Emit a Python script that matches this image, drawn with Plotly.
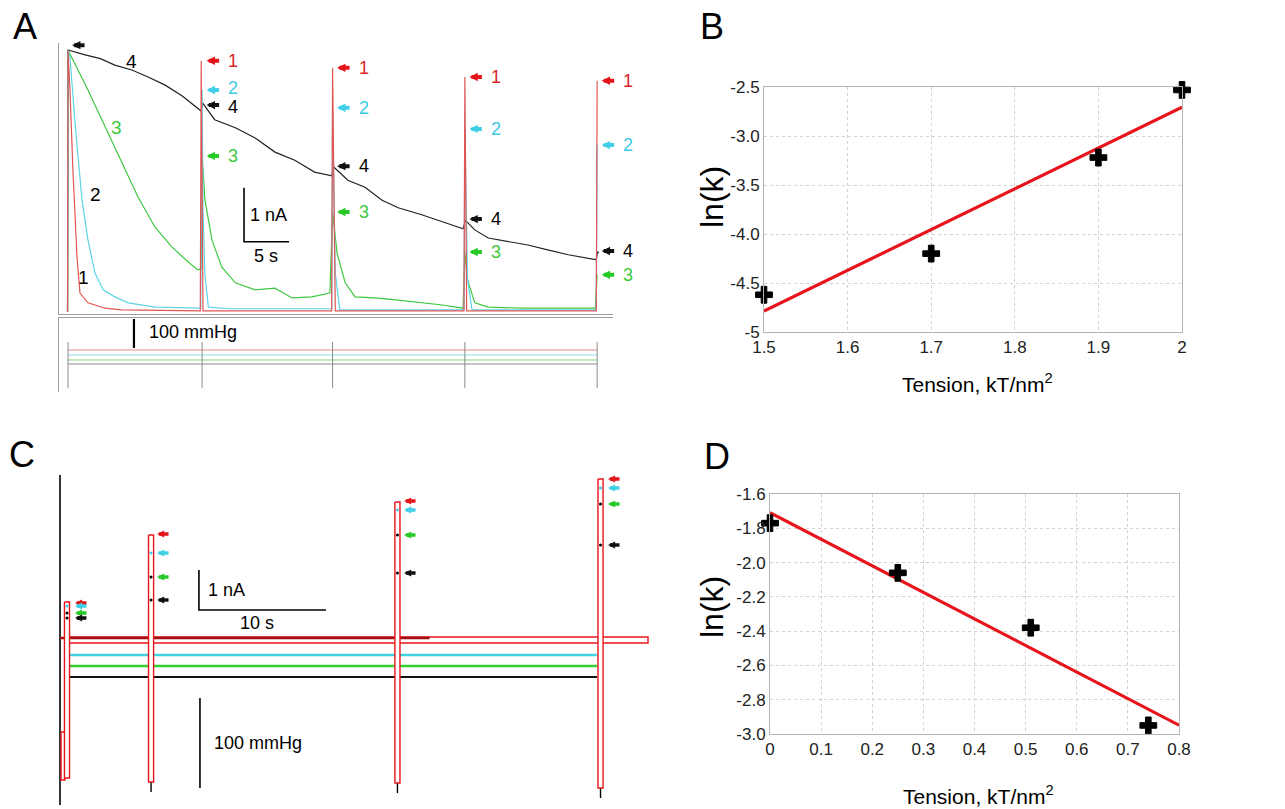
import numpy as np
import plotly.graph_objects as go

W, H = 1285, 809
FONT = "Liberation Sans, Arial, sans-serif"

# ---------------- Panel A : current traces (time s, current nA) ----------------
A1_t = [-0.05, 0, 0.22, 0.56, 1.0, 1.33, 2.22, 4.1, 6.0, 14.7, 14.8, 15.0, 29.3, 29.4, 29.7, 44.0, 44.1, 44.3, 58.7, 58.8]
A1_i = [0, 4.85, 4.11, 2.57, 1.02, 0.35, 0.17, 0.07, 0.04, 0.02, 4.65, 0.02, 0.02, 4.52, 0.02, 0.02, 4.35, 0.02, 0.02, 4.28]

A2_t = [-0.05, 0, 0.22, 0.78, 1.56, 2.22, 3.0, 3.9, 5.2, 6.7, 9.7, 14.75, 14.9, 15.0, 15.2, 15.6, 18.0, 29.3, 29.4, 29.7, 30.2, 44.0, 44.1, 44.4, 44.9, 58.7, 58.8]
A2_i = [0, 4.85, 4.72, 3.5, 2.07, 1.33, 0.72, 0.41, 0.28, 0.17, 0.09, 0.07, 4.11, 1.94, 0.72, 0.09, 0.06, 0.06, 3.78, 0.72, 0.04, 0.04, 3.39, 0.59, 0.04, 0.04, 3.09]

A3_t = [-0.05, 0, 2.22, 4.11, 6.0, 7.78, 9.67, 11.56, 13.33, 14.44, 14.8, 14.9, 15.22, 16.0, 17.1, 18.6, 20.8, 23.0, 24.9, 27.1, 29.1, 29.4, 29.9, 30.8, 31.9, 34.1, 36.7, 39.3, 41.6, 43.9, 44.1, 44.4, 45.2, 46.7, 50.4, 54.1, 58.6, 58.8]
A3_i = [0, 4.85, 4.11, 3.43, 2.76, 2.13, 1.57, 1.20, 0.93, 0.78, 0.80, 2.89, 2.07, 1.33, 0.83, 0.54, 0.41, 0.44, 0.26, 0.28, 0.35, 1.85, 1.09, 0.54, 0.28, 0.26, 0.22, 0.17, 0.13, 0.07, 1.11, 0.59, 0.17, 0.09, 0.07, 0.07, 0.07, 0.69]

A4_t = [-0.05, 0, 1.9, 3.6, 5.2, 7.1, 8.9, 10.8, 12.7, 14.4, 14.8, 14.95, 16.3, 18.6, 20.8, 23.0, 25.2, 27.4, 29.3, 29.5, 31.1, 33.0, 34.9, 36.7, 39.3, 41.6, 43.9, 44.15, 45.2, 46.7, 48.9, 51.1, 53.3, 55.6, 58.3, 58.7, 58.85, 59.0]
A4_i = [0, 4.85, 4.76, 4.69, 4.57, 4.48, 4.35, 4.20, 4.00, 3.78, 3.72, 3.87, 3.56, 3.41, 3.22, 2.96, 2.81, 2.59, 2.52, 2.69, 2.44, 2.31, 2.07, 1.93, 1.80, 1.67, 1.54, 1.70, 1.52, 1.37, 1.30, 1.24, 1.15, 1.06, 0.98, 0.97, 1.11, 1.10]

A_pulse_t = [14.9, 29.4, 44.1, 58.8]
A_arrow_red = [4.65, 4.52, 4.35, 4.28]
A_arrow_cyan = [4.11, 3.78, 3.39, 3.09]
A_arrow_black = [3.83, 2.70, 1.72, 1.13]
A_arrow_green = [2.89, 1.85, 1.11, 0.69]
A_start_arrow = (0.0, 4.94)
A_trace_labels = ["4", "3", "2", "1"]
A_trace_label_t = [7.1, 5.44, 3.0, 1.67]
A_trace_label_i = [4.63, 3.41, 2.17, 0.63]

# Panel A : pressure (mmHg)
A_press_levels = [48, 31, 14, 0]
A_press_t = [0, 58.8]
A_spike_t = [0, 14.9, 29.4, 44.1, 58.8]
A_spike_range = [76, -83]

# ---------------- Panel B ----------------
B_tension = [1.5, 1.7, 1.9, 2.0]
B_lnk = [-4.62, -4.20, -3.22, -2.53]

# ---------------- Panel C (time s, current nA) ----------------
C_pulse_t = [0.55, 7.17, 26.57, 42.56]
C_pulse_top = [0.95, 2.625, 3.45, 4.025]
C_pulse_bottom = [-3.45, -3.55, -3.575, -3.7]
C_tick_bottom = [-3.45, -3.8, -3.825, -3.95]
C_pre_t = [0.08, 0.39]
C_pre_i = [-2.3, -3.5]
C_band_t = [0.71, 46.3]
C_band_i = [0.075, -0.075]
C_maroon_t = [0.0, 29.1]
C_maroon_i = 0.05
C_lines_t = [0.71, 42.28]
C_cyan_i = -0.375
C_green_i = -0.65
C_black_i = -0.925
C_axis_t = [0, 0]
C_axis_i = [4.125, -4.125]
C_arrow_tip_t = [1.18, 7.64, 27.09, 43.15]
C_arrow_red = [0.925, 2.65, 3.475, 4.025]
C_arrow_cyan = [0.85, 2.175, 3.25, 3.8]
C_arrow_green = [0.675, 1.575, 2.625, 3.4]
C_arrow_black = [0.55, 1.0, 1.675, 2.375]

# ---------------- Panel D ----------------
D_tension = [0.0, 0.25, 0.51, 0.74]
D_lnk = [-1.77, -2.06, -2.38, -2.95]

# colours
RED_T, CYAN_T, GREEN_T, BLACK_T = "#e05656", "#5fd3e6", "#3fc83f", "#222222"
RED_A, CYAN_A, GREEN_A, BLACK_A = "#e3151b", "#3fcfe6", "#27c927", "#111111"

fig = go.Figure()

def line(x, y, color, width, xa, ya, dash=None, mode="lines"):
    fig.add_trace(go.Scatter(x=x, y=y, mode=mode, xaxis=xa, yaxis=ya,
                             line=dict(color=color, width=width, dash=dash),
                             hoverinfo="skip", showlegend=False))

# --- Panel A current
for t, i, c in [(A4_t, A4_i, BLACK_T), (A3_t, A3_i, GREEN_T), (A2_t, A2_i, CYAN_T), (A1_t, A1_i, RED_T)]:
    line(t, i, c, 1.2, "x", "y")

# --- Panel A pressure
for lvl, c in zip(A_press_levels, ["#e58a8a", "#8edcea", "#86d886", "#8a8a8a"]):
    line(A_press_t, [lvl, lvl], c, 1.1, "x2", "y2")
for ts in A_spike_t:
    line([ts, ts], A_spike_range, "#8a8a8a", 1.0, "x2", "y2")

# scale bars A
line([19.56, 19.56, 24.56], [2.30, 1.30, 1.30], "black", 1.6, "x", "y")
line([7.33, 7.33], [155, 55], "black", 2.2, "x2", "y2")

# --- Panel B
bfit = np.polyfit(B_tension, B_lnk, 1)
bx = [1.5, 2.0]
line(bx, list(np.polyval(bfit, bx)), "#e8141b", 3.2, "x3", "y3")
fig.add_trace(go.Scatter(x=B_tension, y=B_lnk, mode="markers", xaxis="x3", yaxis="y3",
                         marker=dict(symbol="cross", size=14, color="black", line=dict(color="black", width=1)),
                         cliponaxis=False, showlegend=False, hoverinfo="skip"))

# --- Panel D
dfit = np.polyfit(D_tension, D_lnk, 1)
dx = [0.0, 0.8]
line(dx, list(np.polyval(dfit, dx)), "#e8141b", 3.2, "x5", "y5")
fig.add_trace(go.Scatter(x=D_tension, y=D_lnk, mode="markers", xaxis="x5", yaxis="y5",
                         marker=dict(symbol="cross", size=14, color="black", line=dict(color="black", width=1)),
                         cliponaxis=False, showlegend=False, hoverinfo="skip"))

# --- Panel C
def rect(t0, t1, i0, i1, color="#e8141b", lw=1.4):
    fig.add_trace(go.Scatter(x=[t0, t1, t1, t0, t0], y=[i0, i0, i1, i1, i0], mode="lines",
                             fill="toself", fillcolor="white", xaxis="x4", yaxis="y4",
                             line=dict(color=color, width=lw), hoverinfo="skip", showlegend=False))

line(C_axis_t, C_axis_i, "black", 1.6, "x4", "y4")
line(C_lines_t, [C_cyan_i] * 2, "#3fd3e3", 2.6, "x4", "y4")
line(C_lines_t, [C_green_i] * 2, "#33d133", 2.6, "x4", "y4")
line(C_lines_t, [C_black_i] * 2, "#111111", 2.2, "x4", "y4")
rect(C_band_t[0], C_band_t[1], C_band_i[0], C_band_i[1])
line(C_maroon_t, [C_maroon_i] * 2, "#a50f0f", 2.6, "x4", "y4")
HALF = 0.2
for k, (tc, bot) in enumerate(zip(C_pulse_t, C_tick_bottom)):
    line([tc, tc], [C_pulse_bottom[k], bot], "black", 1.4, "x4", "y4")
rect(C_pre_t[0], C_pre_t[1], C_pre_i[0], C_pre_i[1])
for tc, top, bot in zip(C_pulse_t, C_pulse_top, C_pulse_bottom):
    rect(tc - HALF, tc + HALF, top, bot)
fig.add_trace(go.Scatter(x=C_pulse_t + C_pulse_t, y=C_arrow_green + C_arrow_black, mode="markers",
                         xaxis="x4", yaxis="y4", marker=dict(color="black", size=3),
                         showlegend=False, hoverinfo="skip"))
fig.add_trace(go.Scatter(x=C_pulse_t, y=C_arrow_cyan, mode="markers",
                         xaxis="x4", yaxis="y4", marker=dict(color="#3fcfe6", size=3),
                         showlegend=False, hoverinfo="skip"))
# scale bars C
line([10.94, 10.94, 20.94], [1.75, 0.75, 0.75], "black", 1.6, "x4", "y4")
line([11.02, 11.02], [-1.45, -3.7], "black", 1.6, "x4", "y4")

# ---------------- axes geometry ----------------
def dx_(a, b):
    return [a / W, b / W]

def dy_(top, bottom):
    return [1 - bottom / H, 1 - top / H]

A_x_dom = dx_(59, 613)
A_x_range = [-1.0, 60.56]
A_y_dom = dy_(43, 313.5)
A_y_range = [-0.028, 4.98]

def a_paper_x(t):
    return A_x_dom[0] + (t - A_x_range[0]) / (A_x_range[1] - A_x_range[0]) * (A_x_dom[1] - A_x_dom[0])

def a_paper_y(i):
    return A_y_dom[0] + (i - A_y_range[0]) / (A_y_range[1] - A_y_range[0]) * (A_y_dom[1] - A_y_dom[0])

# ---------------- annotations ----------------
ann = []

def arrow(xr, yr, x, y, color, L=14, w=4.0, s=0.42):
    ann.append(dict(x=x, y=y, xref=xr, yref=yr, ax=L, ay=0, text="", showarrow=True,
                    arrowhead=2, arrowsize=s, arrowwidth=w, arrowcolor=color, standoff=0))

def text(xr, yr, x, y, s, size, color="black", xanchor="center", angle=0, yshift=0):
    ann.append(dict(x=x, y=y, xref=xr, yref=yr, text=s, showarrow=False, textangle=angle,
                    font=dict(family=FONT, size=size, color=color), xanchor=xanchor, yanchor="middle",
                    yshift=yshift))

# Panel A arrows + labels
for T, r, c, b, g in zip(A_pulse_t, A_arrow_red, A_arrow_cyan, A_arrow_black, A_arrow_green):
    for val, col, lab, lcol in [(r, RED_A, "1", "#d8262b"), (c, CYAN_A, "2", "#3cc9e4"),
                                (b, BLACK_A, "4", "black"), (g, GREEN_A, "3", "#3cc83c")]:
        arrow("paper", "paper", a_paper_x(T + 0.5), a_paper_y(val), col)
        shift = 0
        if T == A_pulse_t[0] and lab == "2":
            shift = 2
        if T == A_pulse_t[0] and lab == "4":
            shift = -2
        text("paper", "paper", a_paper_x(T + 3.44), a_paper_y(val), lab, 18, lcol, yshift=shift)
arrow("paper", "paper", a_paper_x(A_start_arrow[0] + 0.45), a_paper_y(A_start_arrow[1]), BLACK_A)
for lab, tt, ii, col in zip(A_trace_labels, A_trace_label_t, A_trace_label_i, ["black", "#3cc83c", "black", "black"]):
    text("x", "y", tt, ii, lab, 19, col)
text("x", "y", 20.0, 1.80, "1 nA", 18, xanchor="left")
text("x", "y", 22.0, 1.04, "5 s", 18)
text("x2", "y2", 8.78, 110, "100 mmHg", 18, xanchor="left")

# Panel C arrows
for tip, r, c, g, b in zip(C_arrow_tip_t, C_arrow_red, C_arrow_cyan, C_arrow_green, C_arrow_black):
    for val, col in [(r, RED_A), (c, CYAN_A), (g, GREEN_A), (b, BLACK_A)]:
        arrow("x4", "y4", tip, val, col, L=13, w=3.4, s=0.42)
text("x4", "y4", 11.5, 1.25, "1 nA", 18, xanchor="left")
text("x4", "y4", 15.5, 0.42, "10 s", 18)
text("x4", "y4", 11.97, -2.575, "100 mmHg", 18, xanchor="left")

# panel letters
for lab, px, py in [("A", 25, 26), ("B", 712, 27), ("C", 22, 454), ("D", 717, 456)]:
    text("paper", "paper", px / W, 1 - py / H, lab, 36)

# axis titles B, D
text("paper", "paper", 712 / W, 1 - 197 / H, "ln(k)", 32, angle=-90)
text("paper", "paper", 977 / W, 1 - 383 / H, "Tension, kT/nm<sup>2</sup>", 21)
text("paper", "paper", 712 / W, 1 - 607 / H, "ln(k)", 32, angle=-90)
text("paper", "paper", 978 / W, 1 - 795 / H, "Tension, kT/nm<sup>2</sup>", 21)

hidden = dict(showgrid=False, zeroline=False, showticklabels=False, ticks="", automargin=False)
gray = "#9c9c9c"

plot_axis = dict(showline=True, mirror=True, linecolor="#b4b4b4", linewidth=1,
                 showgrid=True, gridcolor="#d2d2d2", griddash="dot", gridwidth=1, automargin=False,
                 zeroline=False, ticks="", tickfont=dict(family=FONT, size=17, color="#222"))

fig.update_layout(
    template="none",
    width=W, height=H, margin=dict(l=0, r=0, t=0, b=0, pad=0), autosize=False,
    paper_bgcolor="white", plot_bgcolor="white", showlegend=False,
    xaxis=dict(domain=A_x_dom, range=A_x_range, anchor="y", showline=True, linecolor=gray, **hidden),
    yaxis=dict(domain=A_y_dom, range=A_y_range, anchor="x", showline=True, linecolor=gray, **hidden),
    xaxis2=dict(domain=A_x_dom, range=A_x_range, anchor="y2", side="top", showline=True, linecolor=gray, **hidden),
    yaxis2=dict(domain=dy_(318, 392), range=[-96.6, 158.6], anchor="x2", showline=True, linecolor=gray, **hidden),
    xaxis3=dict(domain=dx_(764, 1182), range=[1.5, 2.0], anchor="y3",
                tickvals=[1.5, 1.6, 1.7, 1.8, 1.9, 2.0], ticktext=["1.5", "1.6", "1.7", "1.8", "1.9", "2"], **plot_axis),
    yaxis3=dict(domain=dy_(87, 332), range=[-5, -2.5], anchor="x3",
                tickvals=[-5, -4.5, -4, -3.5, -3, -2.5], ticktext=["-5", "-4.5", "-4.0", "-3.5", "-3.0", "-2.5"], **plot_axis),
    xaxis4=dict(domain=dx_(55, 655), range=[-0.394, 46.85], anchor="y4", visible=False, automargin=False),
    yaxis4=dict(domain=dy_(470, 809), range=[-4.225, 4.25], anchor="x4", visible=False, automargin=False),
    xaxis5=dict(domain=dx_(770, 1179), range=[0, 0.8], anchor="y5",
                tickvals=[0, 0.1, 0.2, 0.3, 0.4, 0.5, 0.6, 0.7, 0.8],
                ticktext=["0", "0.1", "0.2", "0.3", "0.4", "0.5", "0.6", "0.7", "0.8"], **plot_axis),
    yaxis5=dict(domain=dy_(494, 734), range=[-3.0, -1.6], anchor="x5",
                tickvals=[-3.0, -2.8, -2.6, -2.4, -2.2, -2.0, -1.8, -1.6],
                ticktext=["-3.0", "-2.8", "-2.6", "-2.4", "-2.2", "-2.0", "-1.8", "-1.6"], **plot_axis),
    annotations=ann,
)

fig.write_html("out.html", config={"responsive": False})
